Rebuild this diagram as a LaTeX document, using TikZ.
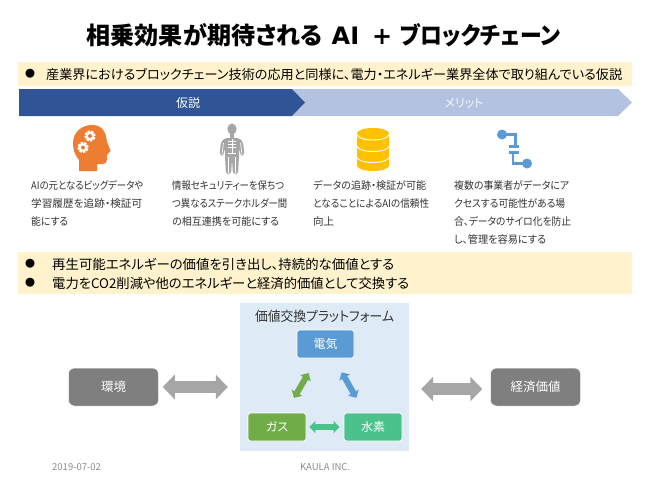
\documentclass[tikz,border=0pt]{standalone}
\usepackage{fontspec}
\setmainfont{Noto Sans CJK JP}[RawFeature=+palt]
\newfontfamily\latf{DejaVu Sans}
\usetikzlibrary{arrows.meta}
\definecolor{banner}{HTML}{FFF2CC}
\definecolor{chevA}{HTML}{2F5597}
\definecolor{chevB}{HTML}{B4C2E2}
\definecolor{panelc}{HTML}{DEEBF7}
\definecolor{elecc}{HTML}{5B9BD5}
\definecolor{gasc}{HTML}{70AD47}
\definecolor{hydc}{HTML}{4BC28B}
\definecolor{grayc}{HTML}{7F7F7F}
\definecolor{arrowc}{HTML}{A6A6A6}
\definecolor{txt}{HTML}{333333}
\definecolor{orangec}{HTML}{ED7D31}
\definecolor{goldc}{HTML}{FFC000}
\definecolor{skelc}{HTML}{A6A6A6}
\newcommand{\fitw}[2]{\resizebox{#1pt}{\height}{#2}}
\tikzset{
  x=1pt,y=-1pt,
  bannerbox/.style={fill=banner,draw=none,anchor=north west,inner sep=0pt},
  bodytext/.style={anchor=north west,inner sep=0pt,align=left,text=txt,font=\fontsize{10.5}{18}\selectfont},
  bannertext/.style={anchor=west,inner sep=0pt,text=black,font=\fontsize{13}{16}\selectfont},
  box/.style={draw=white,line width=0.8pt,rounded corners=2.5pt,text=white,minimum width=#1,minimum height=28pt,inner sep=0pt,font=\fontsize{12}{14}\selectfont},
  graybox/.style={fill=grayc,rounded corners=6pt,draw=white,line width=0.5pt,text=white,minimum width=90pt,minimum height=38pt,inner sep=0pt,font=\fontsize{12.5}{14}\selectfont},
  bigarrow/.style={draw=arrowc,line width=12pt,{Triangle[length=12pt,width=24pt]}-{Triangle[length=12pt,width=24pt]}},
  smallarrow/.style={draw=#1,line width=6pt,{Triangle[length=6pt,width=12pt]}-{Triangle[length=6pt,width=12pt]}},
  foot/.style={anchor=west,inner sep=0pt,text=gray!90,font=\fontsize{9.5}{11}\selectfont},
  chevlabel/.style={inner sep=0pt,font=\fontsize{12}{14}\selectfont},
}
\newcommand{\gearicon}[3]{%
  \foreach \a in {0,45,...,315}{\fill[white,rotate around={\a+15:(#1,#2)}] (#1-1.3,#2-#3-1.3) rectangle (#1+1.3,#2);}
  \fill[white] (#1,#2) circle[radius=#3];
  \fill[orangec] (#1,#2) circle[radius=#3*0.48];
}
\begin{document}
\begin{tikzpicture}
\useasboundingbox (0,0) rectangle (650,487);
\fill[white] (0,0) rectangle (650,487);
% title
\node[inner sep=0pt,font=\fontsize{24}{28}\bfseries\selectfont] (title) at (323.5,35) {\fitw{236}{相乗効果が期待される}\hspace{9pt}{\latf AI\hspace{13pt}+}\hspace{8pt}\fitw{160}{ブロックチェーン}};
% top banner
\node[bannerbox,minimum width=614pt,minimum height=24pt] (ban1) at (18,62) {};
\node[bannertext,font=\fontsize{10}{12}\selectfont] (bul1) at (25,74) {●};
\node[bannertext] (ban1t) at (46,74) {\fitw{576}{産業界におけるブロックチェーン技術の応用と同様に、電力・エネルギー業界全体で取り組んでいる仮説}};
% chevrons
\fill[chevB] (292,89) -- (618,89) -- (632,102.5) -- (618,116) -- (292,116) -- (305,102.5) -- cycle;
\fill[chevA] (19,89) -- (292,89) -- (305,102.5) -- (292,116) -- (19,116) -- cycle;
\node[chevlabel,text=white] (chevAt) at (188,103) {仮説};
\node[chevlabel,text=white!85!chevB] (chevBt) at (464,103) {メリット};
% head icon
\fill[orangec] (79,171) -- (79,160) .. controls (75,155) and (73,150) .. (73,143) .. controls (73,132) and (82,125) .. (92,125) .. controls (102,125) and (106,132) .. (106.5,139) .. controls (107,144) and (110.5,149) .. (110.5,151) .. controls (110.5,153) and (107,153) .. (107,155) -- (107,160) .. controls (107,163) and (105,164) .. (102,164) -- (97,164) -- (97,171) -- cycle;
\gearicon{90}{136}{4.2}
\gearicon{83}{147.5}{4.2}
% skeleton icon
\fill[skelc] (232,129) circle[x radius=4.6,y radius=5.6];
\fill[skelc] (230,134) rectangle (234,139);
\fill[skelc,rounded corners=2pt] (225,138) -- (239,138) -- (243,142) -- (244.5,155) -- (241,156) -- (239,148) -- (239,157) -- (238,174) -- (233,174) -- (232,160) -- (231,174) -- (226,174) -- (225,157) -- (225,148) -- (223,156) -- (219.5,155) -- (221,142) -- cycle;
\draw[white,line width=0.7pt] (228,141) -- (236,141) (228,144) -- (236,144) (228,147) -- (236,147) (232,139) -- (232,153) (228,153) -- (236,153);
\draw[white,line width=0.7pt] (223.5,143) -- (222,154) (240.5,143) -- (242,154) (228.5,157) -- (228.5,173) (235.5,157) -- (235.5,173);
% database icon
\fill[goldc] (357,133.5) arc[start angle=180,end angle=360,x radius=16,y radius=5.5] -- (389,165.5) arc[start angle=0,end angle=180,x radius=16,y radius=5.5] -- cycle;
\draw[white,line width=0.9pt] (357,134.5) arc[start angle=180,end angle=0,x radius=16,y radius=5.5];
\draw[white,line width=0.9pt] (357,146) arc[start angle=180,end angle=0,x radius=16,y radius=5.5];
\draw[white,line width=0.9pt] (357,157) arc[start angle=180,end angle=0,x radius=16,y radius=5.5];
\fill[white] (384,143) circle[radius=0.7] (384,154) circle[radius=0.7] (384,165) circle[radius=0.7];
% circuit icon
\fill[elecc] (502,134.5) circle[radius=5] (527,163.5) circle[radius=5];
\draw[elecc,line width=2.4pt] (502,134.5) -- (515.5,134.5) -- (515.5,146);
\draw[elecc,line width=2.4pt] (509,146.5) -- (519,146.5) (509,152.5) -- (519,152.5);
\draw[elecc,line width=2.4pt] (513,152.5) -- (513,163.5) -- (527,163.5);
% column text
\node[bodytext] (c1) at (31,180.5) {\fitw{112}{AIの元となるビッグデータや}\\\fitw{111}{学習履歴を追跡・検証可}\\\fitw{37}{能にする}};
\node[bodytext] (c2) at (172,180.5) {\fitw{112}{情報セキュリティーを保ちつ}\\\fitw{115}{つ異なるステークホルダー間}\\\fitw{107}{の相互連携を可能にする}};
\node[bodytext] (c3) at (313,180.5) {\fitw{113}{データの追跡・検証が可能}\\\fitw{116}{となることによるAIの信頼性}\\\fitw{21}{向上}};
\node[bodytext] (c4) at (454,180.5) {\fitw{115}{複数の事業者がデータにア}\\\fitw{111}{クセスする可能性がある場}\\\fitw{117}{合、データのサイロ化を防止}\\\fitw{92}{し、管理を容易にする}};
% second banner
\node[bannerbox,minimum width=614pt,minimum height=42pt] (ban2) at (18,252) {};
\node[bannertext,font=\fontsize{10}{12}\selectfont] (bul2) at (25,264) {●};
\node[bannertext,font=\fontsize{10}{12}\selectfont] (bul3) at (25,283) {●};
\node[bannertext,font=\fontsize{13.3}{16}\selectfont] (ban2a) at (52,264) {\fitw{342}{再生可能エネルギーの価値を引き出し、持続的な価値とする}};
\node[bannertext,font=\fontsize{13.3}{16}\selectfont] (ban2b) at (52,283) {\fitw{357}{電力をCO2削減や他のエネルギーと経済的価値として交換する}};
% platform panel
\node[fill=panelc,inner sep=0pt,minimum width=169pt,minimum height=148pt] (panel) at (324.5,377) {};
\node[inner sep=0pt,text=txt,font=\fontsize{13.5}{16}\selectfont] (ptitle) at (324.5,316) {\fitw{139}{価値交換プラットフォーム}};
\node[box=57pt,fill=elecc] (elec) at (325.5,344) {電気};
\node[box=58pt,fill=gasc] (gas) at (277,427) {ガス};
\node[box=58pt,fill=hydc] (hyd) at (373,427) {水素};
\node[graybox] (env) at (113.5,387) {環境};
\node[graybox] (econ) at (535.5,387) {経済価値};
% connectors
\draw[bigarrow,shorten <=4pt,shorten >=12pt] (env.east) -- (env.east -| panel.west);
\draw[bigarrow,shorten <=12pt,shorten >=8pt] ([yshift=-2pt]econ.west -| panel.east) -- ([yshift=-2pt]econ.west);
\draw[smallarrow=gasc,shorten <=17pt,shorten >=17pt] (gas) -- (elec);
\draw[smallarrow=elecc,shorten <=16pt,shorten >=17pt] (elec) -- (hyd);
\draw[smallarrow=hydc,shorten <=3pt,shorten >=4pt] (gas) -- (hyd);
% footer
\node[foot] (date) at (52,467) {2019-07-02};
\node[foot] (org) at (300,467) {KAULA INC.};
\end{tikzpicture}
\end{document}
